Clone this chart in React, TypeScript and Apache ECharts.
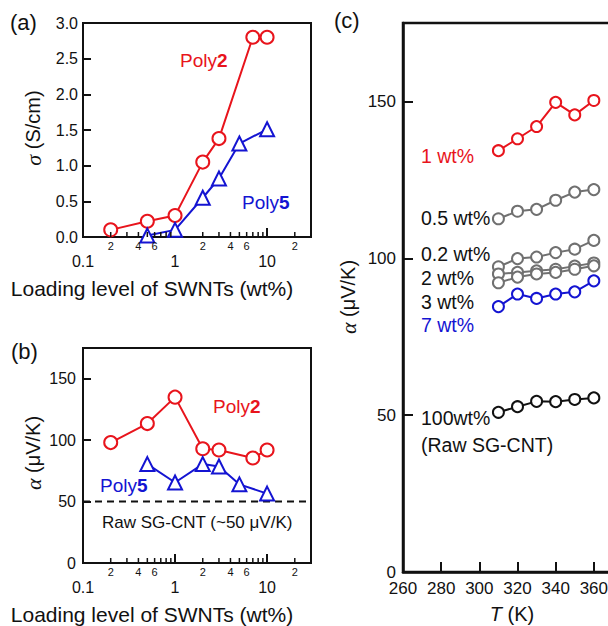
import React, { useEffect, useRef } from "react";
import * as echarts from "echarts";

// ---------- data ----------
const P2_LOADING = [0.2, 0.5, 1, 2, 3, 7, 10];
const P2_SIGMA = [0.1, 0.22, 0.3, 1.05, 1.38, 2.8, 2.8];
const P2_ALPHA = [98, 113.5, 135, 93, 92, 85.5, 92];

const P5_LOADING = [0.5, 1, 2, 3, 5, 10];
const P5_SIGMA = [0.02, 0.1, 0.55, 0.82, 1.31, 1.51];
const P5_ALPHA = [80.5, 65.5, 80.5, 78.5, 64, 56.5];

const RAW_ALPHA_LEVEL = 50;
const LOG_X_RANGE = [0.1, 30];

const MINOR_TICKS = [0.2, 0.3, 0.4, 0.5, 0.6, 0.7, 0.8, 0.9, 2, 3, 4, 5, 6, 7, 8, 9, 20];
const MINOR_LABELED_DIGITS = [2, 4, 6];

const TEMPS = [310, 320, 330, 340, 350, 360];
const A_1WT = [134.3, 138.1, 142, 149.7, 145.7, 150.3];
const A_05WT = [112.6, 115, 115.6, 118.5, 121.1, 121.9];
const A_02WT = [97.3, 99.9, 100.4, 101.8, 102.9, 105.7];
const A_2WT = [95, 95.5, 96, 96.5, 97.5, 98.5];
const A_3WT = [92.2, 94, 95, 95.5, 96.5, 97.6];
const A_7WT = [84.6, 88.6, 87.2, 88.6, 89.3, 92.8];
const A_100WT = [50.9, 52.7, 54.4, 54.3, 55, 55.5];

// ---------- styles ----------
const FONT = "'Liberation Sans', Arial, sans-serif";
const RED = "#e8141c";
const BLUE = "#1414d2";
const GREY = "#707070";
const BLACK = "#111";

const zip = (xs: number[], ys: number[]) => xs.map((x, i) => [x, ys[i]]);

function logAxis(gridIndex: number) {
  return {
    type: "log",
    logBase: 10,
    gridIndex,
    min: LOG_X_RANGE[0],
    max: LOG_X_RANGE[1],
    axisLine: { lineStyle: { color: BLACK, width: 2 } },
    axisTick: { inside: true, length: 9, lineStyle: { color: BLACK, width: 2 } },
    splitLine: { show: false },
    minorTick: { show: false },
    axisLabel: {
      margin: 16,
      fontSize: 16,
      fontFamily: FONT,
      color: BLACK,
      formatter: (v: number) => {
        const l = Math.log10(v);
        if (Math.abs(l - Math.round(l)) < 1e-6) return String(+v.toPrecision(3));
        return "";
      },
    },
  };
}

function minorTickSeries(idx: number) {
  return {
    type: "custom",
    xAxisIndex: idx,
    yAxisIndex: idx,
    silent: true,
    clip: false,
    z: 5,
    data: MINOR_TICKS.map((v) => [v, 0]),
    renderItem: (_p: any, api: any) => {
      const v = api.value(0);
      const pt = api.coord([v, 0]);
      const exp = Math.floor(Math.log10(v) + 1e-9);
      const digit = Math.round(v / Math.pow(10, exp));
      const children: any[] = [
        {
          type: "line",
          shape: { x1: pt[0], y1: pt[1], x2: pt[0], y2: pt[1] - 5 },
          style: { stroke: BLACK, lineWidth: 1.5 },
        },
      ];
      if (MINOR_LABELED_DIGITS.includes(digit)) {
        children.push({
          type: "text",
          x: pt[0],
          y: pt[1] + 9,
          style: {
            text: String(digit),
            fontSize: 11,
            fontFamily: FONT,
            fill: BLACK,
            align: "center",
            verticalAlign: "middle",
          },
        });
      }
      return { type: "group", children };
    },
  };
}

function txt(text: string, x: number, y: number, opts: any = {}) {
  const { rotation, ...style } = opts;
  return {
    type: "text",
    x,
    y,
    rotation: rotation || 0,
    silent: true,
    style: {
      text,
      fontFamily: FONT,
      fontSize: 19.5,
      fill: BLACK,
      align: "left",
      verticalAlign: "middle",
      ...style,
    },
  };
}

const GREEK = { fontFamily: "'Liberation Serif', serif", fontStyle: "italic", fontSize: 22, fill: BLACK };
const polyRich = (color: string) => ({
  a: { fontFamily: FONT, fontSize: 19, fill: color },
  b: { fontFamily: FONT, fontSize: 19, fill: color, fontWeight: "bold" },
});

export default function App() {
  const ref = useRef<HTMLDivElement>(null);
  useEffect(() => {
    if (!ref.current) return;
    const chart = echarts.init(ref.current, null, { renderer: "svg" });
    const gridBase = {
      show: true,
      borderColor: BLACK,
      borderWidth: 2,
      backgroundColor: "transparent",
      outerBoundsMode: "none",
      containLabel: false,
    };
    const lineSeries = (
      name: string,
      data: number[][],
      color: string,
      idx: number,
      symbol: string,
      size: number,
      lw: number
    ) => ({
      name,
      type: "line",
      xAxisIndex: idx,
      yAxisIndex: idx,
      data,
      symbol,
      symbolSize: size,
      showAllSymbol: true,
      clip: false,
      z: 3,
      lineStyle: { color, width: lw },
      itemStyle: { color, borderColor: color, borderWidth: lw },
    });

    chart.setOption({
      animation: false,
      backgroundColor: "#fff",
      grid: [
        { ...gridBase, left: 83, top: 23, width: 228, height: 214 },
        { ...gridBase, left: 83, top: 348, width: 228, height: 215 },
        { ...gridBase, left: 403, top: 23, width: 229, height: 549, borderWidth: 2.5 },
      ],
      xAxis: [
        logAxis(0),
        logAxis(1),
        {
          type: "value",
          gridIndex: 2,
          min: 260,
          max: 380,
          interval: 20,
          axisLine: { lineStyle: { color: BLACK, width: 2.5 } },
          axisTick: { inside: true, length: 10, lineStyle: { color: BLACK, width: 2 } },
          splitLine: { show: false },
          axisLabel: { margin: 8, fontSize: 17, fontFamily: FONT, color: BLACK },
        },
      ],
      yAxis: [
        {
          type: "value",
          gridIndex: 0,
          min: 0,
          max: 3,
          interval: 0.5,
          axisLine: { lineStyle: { color: BLACK, width: 2 } },
          axisTick: { inside: true, length: 8, lineStyle: { color: BLACK, width: 2 } },
          splitLine: { show: false },
          axisLabel: {
            margin: 5,
            fontSize: 16,
            fontFamily: FONT,
            color: BLACK,
            formatter: (v: number) => v.toFixed(1),
          },
        },
        {
          type: "value",
          gridIndex: 1,
          min: 0,
          max: 175,
          interval: 50,
          axisLine: { lineStyle: { color: BLACK, width: 2 } },
          axisTick: { inside: true, length: 8, lineStyle: { color: BLACK, width: 2 } },
          splitLine: { show: false },
          axisLabel: {
            margin: 7,
            fontSize: 16,
            fontFamily: FONT,
            color: BLACK,
            formatter: (v: number) => (v % 50 === 0 ? String(v) : ""),
          },
        },
        {
          type: "value",
          gridIndex: 2,
          min: 0,
          max: 175,
          interval: 50,
          axisLine: { lineStyle: { color: BLACK, width: 2.5 } },
          axisTick: { inside: true, length: 10, lineStyle: { color: BLACK, width: 2 } },
          splitLine: { show: false },
          axisLabel: {
            margin: 7,
            fontSize: 17,
            fontFamily: FONT,
            color: BLACK,
            formatter: (v: number) => (v % 50 === 0 ? String(v) : ""),
          },
        },
      ],
      series: [
        minorTickSeries(0),
        minorTickSeries(1),
        lineSeries("Poly2 σ", zip(P2_LOADING, P2_SIGMA), RED, 0, "emptyCircle", 13, 2),
        lineSeries("Poly5 σ", zip(P5_LOADING, P5_SIGMA), BLUE, 0, "emptyTriangle", 14, 2),
        {
          name: "Raw SG-CNT",
          type: "line",
          xAxisIndex: 1,
          yAxisIndex: 1,
          data: LOG_X_RANGE.map((x) => [x, RAW_ALPHA_LEVEL]),
          symbol: "none",
          clip: false,
          z: 2,
          lineStyle: { color: BLACK, width: 2, type: [7, 5] },
        },
        lineSeries("Poly2 α", zip(P2_LOADING, P2_ALPHA), RED, 1, "emptyCircle", 13, 2),
        lineSeries("Poly5 α", zip(P5_LOADING, P5_ALPHA), BLUE, 1, "emptyTriangle", 14, 2),
        lineSeries("1 wt%", zip(TEMPS, A_1WT), RED, 2, "emptyCircle", 11, 2),
        lineSeries("0.5 wt%", zip(TEMPS, A_05WT), GREY, 2, "emptyCircle", 11, 2),
        lineSeries("0.2 wt%", zip(TEMPS, A_02WT), GREY, 2, "emptyCircle", 11, 2),
        lineSeries("2 wt%", zip(TEMPS, A_2WT), GREY, 2, "emptyCircle", 11, 2),
        lineSeries("3 wt%", zip(TEMPS, A_3WT), GREY, 2, "emptyCircle", 11, 2),
        lineSeries("7 wt%", zip(TEMPS, A_7WT), BLUE, 2, "emptyCircle", 11, 2),
        lineSeries("100 wt%", zip(TEMPS, A_100WT), BLACK, 2, "emptyCircle", 11, 2),
      ],
      graphic: [
        txt("(a)", 10, 22, { fontSize: 22 }),
        txt("(b)", 11, 351, { fontSize: 22 }),
        txt("(c)", 334, 20, { fontSize: 22 }),
        txt("{g|σ} (S/cm)", 33, 128, { rotation: Math.PI / 2, align: "center", fontSize: 20, rich: { g: GREEK } }),
        txt("{g|α} (μV/K)", 33, 453, { rotation: Math.PI / 2, align: "center", fontSize: 20, rich: { g: GREEK } }),
        txt("{g|α} (μV/K)", 348, 297, { rotation: Math.PI / 2, align: "center", fontSize: 20, rich: { g: GREEK } }),
        txt("Loading level of SWNTs (wt%)", 152, 288, { align: "center", fontSize: 21 }),
        txt("Loading level of SWNTs (wt%)", 152, 614, { align: "center", fontSize: 21 }),
        txt("{t|T} (K)", 512, 614, {
          align: "center",
          fontSize: 20,
          rich: { t: { fontFamily: FONT, fontStyle: "italic", fontSize: 20, fill: BLACK } },
        }),
        txt("{a|Poly}{b|2}", 180, 60, { rich: polyRich(RED), fill: RED }),
        txt("{a|Poly}{b|5}", 242, 202, { rich: polyRich(BLUE), fill: BLUE }),
        txt("{a|Poly}{b|2}", 213, 406, { rich: polyRich(RED), fill: RED }),
        txt("{a|Poly}{b|5}", 100, 485, { rich: polyRich(BLUE), fill: BLUE }),
        txt("Raw SG-CNT (~50 μV/K)", 102, 522, { fontSize: 17 }),
        txt("1 wt%", 421, 156, { fill: RED }),
        txt("0.5 wt%", 421, 218),
        txt("0.2 wt%", 421, 254),
        txt("2 wt%", 421, 278),
        txt("3 wt%", 421, 302),
        txt("7 wt%", 421, 325, { fill: BLUE }),
        txt("100wt%", 421, 418),
        txt("(Raw SG-CNT)", 421, 445),
      ],
    });
    return () => chart.dispose();
  }, []);
  return (
    <div
      style={{ position: "absolute", left: 0, top: 0, width: 608, height: 626, overflow: "hidden", background: "#fff" }}
    >
      <div ref={ref} style={{ width: 680, height: 626 }} />
    </div>
  );
}
